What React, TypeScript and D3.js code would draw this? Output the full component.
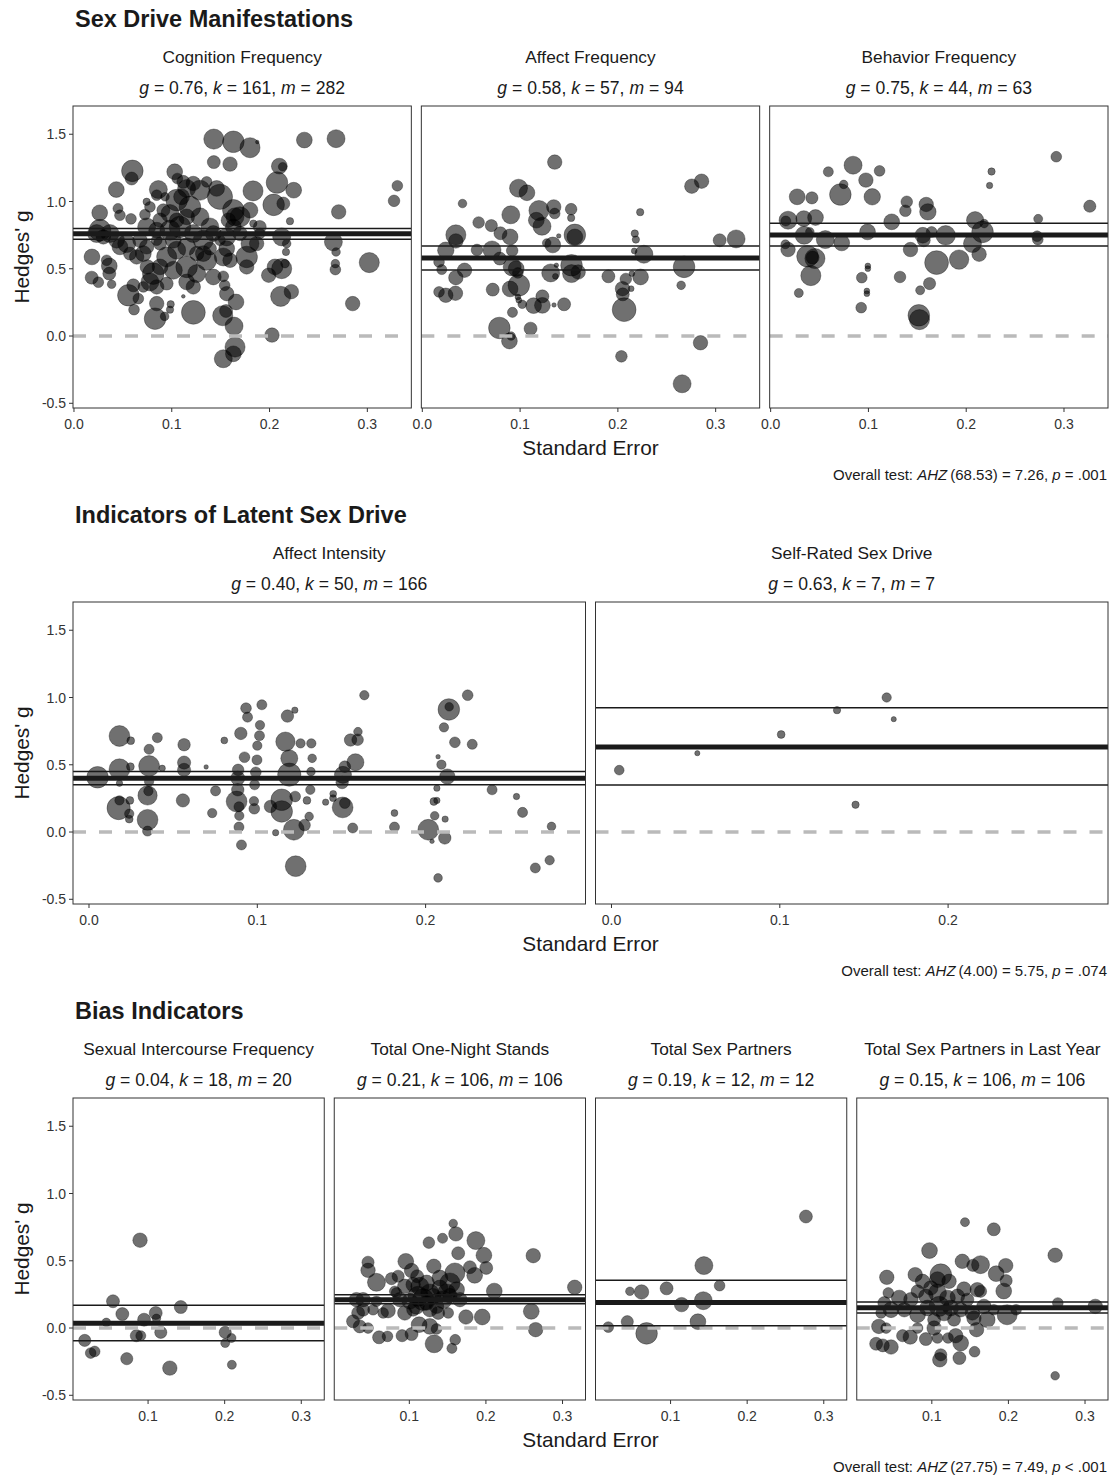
import React from "react";
import * as d3 from "d3";

// each study: [standard error, hedges g, weight]
type Pt = [number, number, number];

const cognitionFrequency: Pt[] = [
  [0.143,1.464,60],[0.163,1.444,69],[0.180,1.400,60],[0.1875,1.442,2],[0.2356,1.457,37],[0.268,1.467,48],
  [0.143,1.293,25],[0.1596,1.278,31],[0.0597,1.228,69],[0.059,1.171,25],[0.103,1.221,37],[0.1057,1.171,17],
  [0.210,1.263,37],[0.2134,1.258,11],[0.2076,1.141,69],[0.2247,1.084,37],[0.1831,1.079,60],[0.0433,1.089,37],
  [0.3307,1.117,17],[0.3273,1.005,20],[0.2707,0.923,31],[0.2042,0.975,69],[0.2141,0.985,25],[0.2209,0.854,8],
  [0.0263,0.916,37],[0.045,0.948,15],[0.047,0.898,17],[0.0583,0.871,17],[0.0726,0.903,17],[0.0863,1.089,48],
  [0.0846,1.047,17],[0.1152,1.097,48],[0.1289,1.084,60],[0.1459,1.097,37],[0.1493,1.035,94],[0.105,1.01,69],
  [0.0982,0.911,48],[0.1186,0.960,69],[0.1289,0.886,48],[0.163,0.935,69],[0.180,0.935,37],[0.1698,0.886,60],
  [0.190,0.811,25],[0.1834,0.836,8],[0.2653,0.700,48],[0.268,0.625,11],[0.2673,0.538,11],[0.2673,0.494,17],
  [0.302,0.546,60],[0.285,0.241,31],[0.2124,0.737,48],[0.2175,0.687,11],[0.2168,0.625,8],[0.2158,0.538,11],
  [0.2124,0.501,60],[0.2056,0.514,37],[0.1991,0.452,31],[0.2223,0.330,31],[0.2114,0.295,60],[0.2025,0.007,31],
  [0.0184,0.588,37],[0.0361,0.521,37],[0.0361,0.464,25],[0.0181,0.434,25],[0.0249,0.40,17],[0.0385,0.385,11],
  [0.0556,0.303,69],[0.0607,0.377,25],[0.0658,0.278,17],[0.0614,0.196,17],[0.0829,0.129,69],[0.0846,0.241,31],
  [0.0927,0.146,11],[0.0989,0.236,8],[0.0982,0.196,8],[0.1118,0.295,2],[0.1221,0.176,84],[0.1521,0.151,60],
  [0.1555,0.186,25],[0.1637,0.074,48],[0.1647,-0.082,60],[0.163,-0.132,37],[0.1527,-0.169,48],[0.1657,0.253,37],
  [0.1562,0.315,31],[0.1541,0.377,17],[0.1527,0.444,17],[0.1425,0.439,37],[0.1766,0.588,69],[0.1596,0.563,31],
  [0.1527,0.588,48],[0.1562,0.650,37],[0.1152,0.402,37],[0.1255,0.464,48],[0.1357,0.563,60],[0.1323,0.613,37],
  [0.1152,0.514,69],[0.105,0.638,48],[0.0948,0.588,60],[0.088,0.514,37],[0.0811,0.464,69],[0.0777,0.402,48],
  [0.0846,0.365,31],[0.0948,0.390,25],[0.075,0.514,31],[0.0709,0.613,37],[0.0743,0.663,31],[0.0675,0.712,31],
  [0.0539,0.687,48],[0.0436,0.712,37],[0.0368,0.762,48],[0.0266,0.787,69],[0.0232,0.762,48],[0.030,0.737,31],
  [0.047,0.663,37],[0.0573,0.613,25],[0.0743,0.811,48],[0.0846,0.787,37],[0.0982,0.787,60],[0.1084,0.811,69],
  [0.122,0.762,48],[0.1323,0.712,60],[0.1425,0.762,37],[0.1562,0.737,48],[0.1698,0.762,31],[0.180,0.687,48],
  [0.1868,0.687,31],[0.190,0.762,17],[0.088,0.687,25],[0.1016,0.712,37],[0.1152,0.663,48],[0.1255,0.613,31],
  [0.1391,0.650,25],[0.1493,0.712,17],[0.163,0.811,37],[0.1647,0.886,48],[0.1579,0.861,31],[0.1152,0.886,37],
  [0.105,0.861,31],[0.0914,0.935,25],[0.0777,0.960,17],[0.0743,0.998,8],[0.122,1.134,31],[0.1357,1.146,17],
  [0.1118,1.146,25],[0.0931,1.035,11],[0.0641,0.588,31],[0.1016,0.489,48],[0.122,0.365,31],[0.139,0.811,48],
  [0.088,0.861,31],[0.1766,0.514,31],[0.0334,0.563,17],[0.0709,0.365,17],[0.110,1.035,37],[0.0846,0.712,17],
];

const affectFrequency: Pt[] = [
  [0.1354,1.293,31],[0.0984,1.099,48],[0.107,1.065,37],[0.0411,0.985,11],[0.2756,1.114,31],[0.2856,1.151,31],
  [0.0576,0.844,20],[0.0706,0.821,22],[0.0905,0.901,48],[0.0343,0.752,60],[0.0343,0.707,31],[0.0799,0.764,25],
  [0.0898,0.737,37],[0.1193,0.933,60],[0.1166,0.861,37],[0.1224,0.816,48],[0.1344,0.960,31],[0.1354,0.911,17],
  [0.1522,0.943,20],[0.1522,0.878,8],[0.1395,0.744,3],[0.1560,0.752,69],[0.156,0.737,37],[0.1334,0.677,37],
  [0.1272,0.692,11],[0.2228,0.921,8],[0.2173,0.762,8],[0.2184,0.717,8],[0.2167,0.633,5],[0.2266,0.608,48],
  [0.3041,0.712,25],[0.3209,0.722,48],[0.024,0.638,40],[0.0559,0.640,20],[0.0713,0.640,48],[0.0792,0.576,25],
  [0.0919,0.635,20],[0.0171,0.551,17],[0.0199,0.494,15],[0.0432,0.489,31],[0.0343,0.434,31],[0.0919,0.514,48],
  [0.096,0.501,37],[0.0977,0.469,17],[0.1313,0.469,48],[0.1361,0.444,5],[0.1371,0.526,3],[0.1526,0.526,69],
  [0.1526,0.464,48],[0.1594,0.476,31],[0.1903,0.444,25],[0.2232,0.439,37],[0.2143,0.464,5],[0.2081,0.424,20],
  [0.2047,0.352,31],[0.2136,0.352,5],[0.205,0.310,25],[0.2064,0.196,84],[0.2677,0.514,69],[0.2647,0.377,11],
  [0.0171,0.328,17],[0.024,0.303,31],[0.0339,0.318,31],[0.072,0.345,25],[0.0898,0.350,37],[0.0987,0.377,69],
  [0.0977,0.290,5],[0.0987,0.266,5],[0.1022,0.236,11],[0.1138,0.226,37],[0.1228,0.228,37],[0.1228,0.295,25],
  [0.1347,0.231,3],[0.145,0.236,25],[0.0922,0.176,15],[0.0788,0.060,69],[0.1107,0.055,25],[0.0891,-0.037,37],
  [0.0908,0.0,11],[0.2845,-0.050,31],[0.2036,-0.151,20],[0.2657,-0.355,48],
];

const behaviorFrequency: Pt[] = [
  [0.0843,1.270,48],[0.059,1.221,15],[0.1114,1.228,17],[0.2921,1.333,17],[0.2259,1.223,8],[0.2239,1.119,6],
  [0.0747,1.127,11],[0.0974,1.159,31],[0.0713,1.052,69],[0.0271,1.035,37],[0.0422,1.027,22],[0.1039,1.035,40],
  [0.1392,0.998,20],[0.1378,0.931,20],[0.1591,0.978,31],[0.1608,0.923,40],[0.3264,0.965,22],[0.0178,0.861,48],
  [0.0155,0.855,15],[0.0339,0.873,37],[0.0459,0.881,37],[0.2736,0.871,12],[0.1238,0.849,37],[0.2091,0.861,44],
  [0.2184,0.836,11],[0.2167,0.774,69],[0.0343,0.749,48],[0.0401,0.774,11],[0.0559,0.717,48],[0.0727,0.692,37],
  [0.0991,0.774,37],[0.1556,0.749,37],[0.1566,0.712,25],[0.1646,0.774,17],[0.1790,0.749,56],[0.2725,0.742,17],
  [0.2732,0.717,17],[0.2064,0.687,48],[0.2132,0.608,31],[0.0151,0.682,12],[0.0178,0.643,31],[0.143,0.643,31],
  [0.0377,0.593,69],[0.0453,0.576,60],[0.0429,0.583,25],[0.0411,0.449,60],[0.1697,0.546,84],[0.1927,0.568,56],
  [0.0994,0.521,5],[0.0994,0.501,5],[0.0932,0.434,17],[0.1323,0.439,20],[0.1625,0.390,22],[0.1529,0.340,12],
  [0.0984,0.335,5],[0.0984,0.315,5],[0.0288,0.320,12],[0.0926,0.211,17],[0.1515,0.154,69],[0.1522,0.122,60],
];

const affectIntensity: Pt[] = [
  [0.0051,0.407,69],[0.0181,0.714,64],[0.0248,0.679,9],[0.0406,0.701,15],[0.0181,0.467,64],[0.0246,0.486,9],
  [0.0181,0.363,6],[0.0181,0.235,13],[0.0176,0.178,80],[0.0243,0.235,9],[0.0239,0.136,13],[0.0239,0.096,9],
  [0.0357,0.615,15],[0.0357,0.491,64],[0.0357,0.375,13],[0.0353,0.304,13],[0.0348,0.272,55],[0.0348,0.091,64],
  [0.0348,0.007,15],[0.0435,0.474,6],[0.0565,0.649,23],[0.0565,0.516,26],[0.0565,0.462,26],[0.0558,0.235,26],
  [0.0696,0.484,3],[0.0752,0.306,15],[0.0732,0.141,13],[0.0804,0.681,7],[0.0933,0.921,17],[0.0942,0.854,15],
  [0.0902,0.733,23],[0.0924,0.556,17],[0.0886,0.462,20],[0.0884,0.400,29],[0.0884,0.314,23],[0.0877,0.227,64],
  [0.0891,0.188,15],[0.0893,0.121,13],[0.0891,0.037,15],[0.0906,-0.096,15],[0.1027,0.946,15],[0.1016,0.795,13],
  [0.1013,0.716,15],[0.1000,0.642,13],[0.0998,0.536,15],[0.0991,0.444,17],[0.0984,0.351,15],[0.098,0.230,13],
  [0.0982,0.173,17],[0.1109,-0.005,6],[0.1179,0.862,23],[0.1223,0.906,6],[0.1167,0.672,55],[0.1190,0.548,43],
  [0.119,0.427,80],[0.1145,0.240,69],[0.1145,0.153,69],[0.1217,0.017,64],[0.1228,-0.254,64],[0.1225,0.264,17],
  [0.1257,0.659,13],[0.1321,0.659,13],[0.1326,0.548,11],[0.1319,0.449,11],[0.1315,0.314,13],[0.1308,0.116,11],
  [0.1281,0.052,20],[0.1295,0.235,9],[0.1406,0.222,6],[0.1451,0.284,7],[0.145,0.252,7],[0.1507,0.183,64],
  [0.152,0.215,17],[0.1504,0.368,23],[0.1509,0.425,43],[0.152,0.486,20],[0.1554,0.684,23],[0.1583,0.519,43],
  [0.1596,0.686,20],[0.1598,0.746,11],[0.1567,0.030,15],[0.1636,1.017,13],[0.1815,0.141,7],[0.1815,0.037,15],
  [0.2016,0.017,64],[0.2074,0.560,3],[0.2094,0.501,13],[0.2109,0.778,13],[0.2138,0.911,69],[0.214,0.931,11],
  [0.2129,0.412,35],[0.2049,0.227,9],[0.2067,0.235,6],[0.2054,0.121,11],[0.2114,-0.044,23],[0.2038,-0.069,3],
  [0.2116,0.096,6],[0.2074,-0.341,11],[0.2067,0.326,6],[0.2174,0.667,17],[0.2250,1.017,17],[0.2277,0.652,15],
  [0.2395,0.314,15],[0.2540,0.264,6],[0.2576,0.146,15],[0.2748,0.042,11],[0.2652,-0.267,15],[0.2737,-0.210,13],
  [0.1078,0.190,23],
];

const selfRatedSexDrive: Pt[] = [
  [0.0046,0.46,14],[0.051,0.586,4],[0.1008,0.725,9],[0.134,0.906,8],[0.1635,1.0,13],[0.1677,0.839,4],[0.145,0.203,8],
];

const intercourseFrequency: Pt[] = [
  [0.0895,0.653,31],[0.0542,0.199,25],[0.0664,0.104,25],[0.0455,0.042,11],[0.0948,0.062,25],[0.110,0.112,25],
  [0.1109,0.072,11],[0.1427,0.156,25],[0.1166,-0.032,22],[0.0847,-0.057,22],[0.0905,-0.057,15],[0.0173,-0.092,22],
  [0.0251,-0.186,17],[0.0303,-0.174,17],[0.0722,-0.228,22],[0.1284,-0.298,31],[0.2007,-0.032,22],[0.2007,-0.112,12],
  [0.2089,-0.074,12],[0.2094,-0.273,12],
];

const oneNightStands: Pt[] = [
  [0.1573,0.777,11],[0.1608,0.700,31],[0.1434,0.667,15],[0.1255,0.635,20],[0.1869,0.650,48],[0.1974,0.541,37],
  [0.1638,0.556,25],[0.2004,0.447,25],[0.1853,0.392,37],[0.2618,0.538,31],[0.3159,0.303,31],[0.2109,0.275,37],
  [0.0954,0.496,37],[0.0461,0.489,22],[0.0461,0.429,31],[0.0571,0.340,48],[0.0767,0.367,22],[0.0854,0.385,22],
  [0.1029,0.427,31],[0.1102,0.385,25],[0.1320,0.459,31],[0.1595,0.409,60],[0.1791,0.452,25],[0.1399,0.372,37],
  [0.153,0.335,60],[0.1225,0.335,37],[0.105,0.323,31],[0.0941,0.310,31],[0.081,0.273,17],[0.1617,0.285,37],
  [0.031,0.211,31],[0.0397,0.211,31],[0.0571,0.199,17],[0.0876,0.211,31],[0.1007,0.199,37],[0.1115,0.236,60],
  [0.1181,0.211,69],[0.1311,0.236,37],[0.1442,0.211,48],[0.153,0.241,31],[0.166,0.211,31],[0.0332,0.112,25],
  [0.0397,0.136,25],[0.0723,0.129,31],[0.0941,0.112,31],[0.105,0.136,25],[0.1268,0.136,31],[0.1377,0.112,25],
  [0.1508,0.112,17],[0.1739,0.082,31],[0.1952,0.082,37],[0.2592,0.124,37],[0.2649,-0.012,31],[0.0265,0.050,25],
  [0.0353,0.012,25],[0.0461,0.0,17],[0.0605,-0.069,25],[0.0715,-0.062,17],[0.0906,-0.057,22],[0.1029,-0.045,25],
  [0.1128,0.025,37],[0.1268,0.012,37],[0.1355,-0.007,17],[0.1324,-0.117,48],[0.1599,-0.087,17],[0.1556,-0.151,15],
  [0.1137,0.310,48],[0.1268,0.261,48],[0.1399,0.298,37],[0.1486,0.261,48],[0.1092,0.161,37],[0.1225,0.186,31],
  [0.1355,0.161,31],[0.0833,0.261,17],[0.0658,0.112,17],[0.0527,0.136,17],
];

const sexPartners: Pt[] = [
  [0.2767,0.829,25],[0.1435,0.464,48],[0.164,0.315,17],[0.0948,0.295,25],[0.0621,0.268,31],[0.0469,0.273,11],
  [0.1144,0.174,31],[0.1427,0.203,48],[0.0435,0.047,22],[0.0187,0.007,17],[0.1357,0.047,37],[0.0687,-0.040,69],
];

const partnersLastYear: Pt[] = [
  [0.1433,0.787,12],[0.1809,0.734,25],[0.097,0.576,37],[0.261,0.541,31],[0.1398,0.496,31],[0.1636,0.471,48],
  [0.1536,0.466,22],[0.1965,0.464,31],[0.184,0.404,37],[0.197,0.352,22],[0.1939,0.275,37],[0.0412,0.377,31],
  [0.0783,0.397,31],[0.0879,0.347,31],[0.1117,0.397,69],[0.1225,0.347,31],[0.1074,0.360,37],[0.0987,0.298,31],
  [0.142,0.290,31],[0.1594,0.285,31],[0.1636,0.273,22],[0.0575,0.223,37],[0.0432,0.261,17],[0.0727,0.211,31],
  [0.0814,0.273,25],[0.0922,0.236,31],[0.1074,0.261,48],[0.1204,0.223,37],[0.1334,0.236,31],[0.1464,0.211,25],
  [0.038,0.186,25],[0.0468,0.136,37],[0.0338,0.112,17],[0.064,0.136,31],[0.0814,0.099,37],[0.0944,0.149,37],
  [0.1095,0.161,60],[0.116,0.112,37],[0.1247,0.149,37],[0.1377,0.136,31],[0.1529,0.112,31],[0.168,0.161,31],
  [0.1809,0.136,17],[0.1983,0.099,60],[0.21,0.136,17],[0.2645,0.186,17],[0.3134,0.161,31],[0.0308,0.012,31],
  [0.0403,0.0,17],[0.0273,-0.117,25],[0.036,-0.129,25],[0.0468,-0.141,31],[0.0619,-0.057,22],[0.0718,-0.067,31],
  [0.0922,-0.082,25],[0.103,0.0,31],[0.1074,-0.074,17],[0.1117,-0.199,22],[0.1104,-0.236,31],[0.1212,-0.074,17],
  [0.1312,-0.057,31],[0.1377,-0.112,37],[0.136,-0.223,25],[0.1558,-0.176,17],[0.1584,-0.012,31],[0.261,-0.355,11],
  [0.103,0.062,25],[0.129,0.062,25],[0.155,0.074,31],[0.1723,0.062,37],[0.0814,0.0,17],
];

// pooled estimate and confidence bounds: [g, lower, upper]
const cognitionEstimate = [0.76, 0.72, 0.8];
const affectFreqEstimate = [0.58, 0.49, 0.669];
const behaviorEstimate = [0.751, 0.669, 0.838];
const intensityEstimate = [0.4, 0.351, 0.45];
const selfRatedEstimate = [0.633, 0.35, 0.923];
const intercourseEstimate = [0.035, -0.094, 0.169];
const oneNightEstimate = [0.211, 0.181, 0.248];
const partnersEstimate = [0.189, 0.017, 0.355];
const lastYearEstimate = [0.151, 0.112, 0.194];

const sectionTitles = ["Sex Drive Manifestations", "Indicators of Latent Sex Drive", "Bias Indicators"];
const overallTests = [
  ["68.53", "7.26", "= .001"],
  ["4.00", "5.75", "= .074"],
  ["27.75", "7.49", "< .001"],
];
const xDomains = [[-0.001, 0.345], [-0.0095, 0.295], [0.002, 0.33]];
const xTickValues = [[0, 0.1, 0.2, 0.3], [0, 0.1, 0.2], [0.1, 0.2, 0.3]];
const yTickValues = [-0.5, 0, 0.5, 1, 1.5];

const sections = [
  [
    { title: "Cognition Frequency", g: "0.76", k: "161", m: "282", pts: cognitionFrequency, est: cognitionEstimate },
    { title: "Affect Frequency", g: "0.58", k: "57", m: "94", pts: affectFrequency, est: affectFreqEstimate },
    { title: "Behavior Frequency", g: "0.75", k: "44", m: "63", pts: behaviorFrequency, est: behaviorEstimate },
  ],
  [
    { title: "Affect Intensity", g: "0.40", k: "50", m: "166", pts: affectIntensity, est: intensityEstimate },
    { title: "Self-Rated Sex Drive", g: "0.63", k: "7", m: "7", pts: selfRatedSexDrive, est: selfRatedEstimate },
  ],
  [
    { title: "Sexual Intercourse Frequency", g: "0.04", k: "18", m: "20", pts: intercourseFrequency, est: intercourseEstimate },
    { title: "Total One-Night Stands", g: "0.21", k: "106", m: "106", pts: oneNightStands, est: oneNightEstimate },
    { title: "Total Sex Partners", g: "0.19", k: "12", m: "12", pts: sexPartners, est: partnersEstimate },
    { title: "Total Sex Partners in Last Year", g: "0.15", k: "106", m: "106", pts: partnersLastYear, est: lastYearEstimate },
  ],
];

const FONT = "'Liberation Sans', Arial, Helvetica, sans-serif";
const W = 1113;
const H = 1477;
const SECTION_STEP = 496;
const PANEL_TOP = 106;
const PANEL_BOTTOM = 408;
const LEFT = 73;
const RIGHT = 1108;
const GAP = 10;
const Y_DOMAIN = [-0.535, 1.71];

const rScale = d3.scaleSqrt().domain([0, 100]).range([0, 13]);
const fmt = (t: number) => d3.format(".1f")(t).replace("\u2212", "-");

const Panel = ({ p, idx, si, x0, width, y0, showY }) => {
  const top = y0 + PANEL_TOP;
  const bottom = y0 + PANEL_BOTTOM;
  const x = d3.scaleLinear().domain(xDomains[si]).range([x0, x0 + width]);
  const y = d3.scaleLinear().domain(Y_DOMAIN).range([bottom, top]);
  const clipId = `clip-${si}-${idx}`;
  const cx = x0 + width / 2;
  const [g, lo, hi] = p.est;

  return (
    <g>
      <text x={cx} y={y0 + 63} textAnchor="middle" fontSize={17.3} fill="#1a1a1a">{p.title}</text>
      <text x={cx} y={y0 + 94} textAnchor="middle" fontSize={17.6} fill="#1a1a1a">
        <tspan fontStyle="italic">g</tspan>{` = ${p.g}, `}
        <tspan fontStyle="italic">k</tspan>{` = ${p.k}, `}
        <tspan fontStyle="italic">m</tspan>{` = ${p.m}`}
      </text>
      <clipPath id={clipId}>
        <rect x={x0} y={top} width={width} height={bottom - top} />
      </clipPath>
      <g clipPath={`url(#${clipId})`}>
        {p.pts.map((d, i) => (
          <circle key={i} cx={x(d[0])} cy={y(d[1])} r={rScale(d[2])}
            fill="#000" fillOpacity={0.56} stroke="#000" strokeOpacity={0.45} strokeWidth={0.7} />
        ))}
        <line x1={x0} x2={x0 + width} y1={y(0)} y2={y(0)} stroke="#bababa" strokeWidth={3.5} strokeDasharray="13,13" />
        <line x1={x0} x2={x0 + width} y1={y(lo)} y2={y(lo)} stroke="#1a1a1a" strokeWidth={1.5} />
        <line x1={x0} x2={x0 + width} y1={y(hi)} y2={y(hi)} stroke="#1a1a1a" strokeWidth={1.5} />
        <line x1={x0} x2={x0 + width} y1={y(g)} y2={y(g)} stroke="#1a1a1a" strokeWidth={5} />
      </g>
      <rect x={x0} y={top} width={width} height={bottom - top} fill="none" stroke="#333" strokeWidth={1} />
      {xTickValues[si].map((t) => (
        <g key={t}>
          <line x1={x(t)} x2={x(t)} y1={bottom} y2={bottom + 4} stroke="#333" />
          <text x={x(t)} y={bottom + 21} textAnchor="middle" fontSize={14} fill="#333">{fmt(t)}</text>
        </g>
      ))}
      {showY &&
        yTickValues.map((t) => (
          <g key={t}>
            <line x1={x0 - 4} x2={x0} y1={y(t)} y2={y(t)} stroke="#333" />
            <text x={x0 - 7} y={y(t) + 5} textAnchor="end" fontSize={14} fill="#333">{fmt(t)}</text>
          </g>
        ))}
    </g>
  );
};

const Section = ({ si }) => {
  const y0 = si * SECTION_STEP;
  const panels = sections[si];
  const n = panels.length;
  const width = (RIGHT - LEFT - GAP * (n - 1)) / n;
  const [df, stat, pv] = overallTests[si];
  const midY = y0 + (PANEL_TOP + PANEL_BOTTOM) / 2;
  return (
    <g>
      <text x={75} y={y0 + 27} fontSize={23.5} fontWeight="bold" fill="#1a1a1a">{sectionTitles[si]}</text>
      {panels.map((p, i) => (
        <Panel key={i} p={p} idx={i} si={si} x0={LEFT + i * (width + GAP)} width={width} y0={y0} showY={i === 0} />
      ))}
      <text x={(LEFT + RIGHT) / 2} y={y0 + 455} textAnchor="middle" fontSize={20.8} fill="#1a1a1a">Standard Error</text>
      <text transform={`translate(29,${midY}) rotate(-90)`} textAnchor="middle" fontSize={20.8} fill="#1a1a1a">Hedges' g</text>
      <text x={1107} y={y0 + 480} textAnchor="end" fontSize={15} fill="#1a1a1a">
        {"Overall test: "}
        <tspan fontStyle="italic">AHZ</tspan>
        {`\u2009(${df}) = ${stat}, `}
        <tspan fontStyle="italic">p</tspan>
        {` ${pv}`}
      </text>
    </g>
  );
};

export default function App() {
  return (
    <svg width={W} height={H} style={{ position: "absolute", left: 0, top: 0, background: "#fff" }} fontFamily={FONT}>
      <rect width={W} height={H} fill="#fff" />
      {sectionTitles.map((_, si) => (
        <Section key={si} si={si} />
      ))}
    </svg>
  );
}
